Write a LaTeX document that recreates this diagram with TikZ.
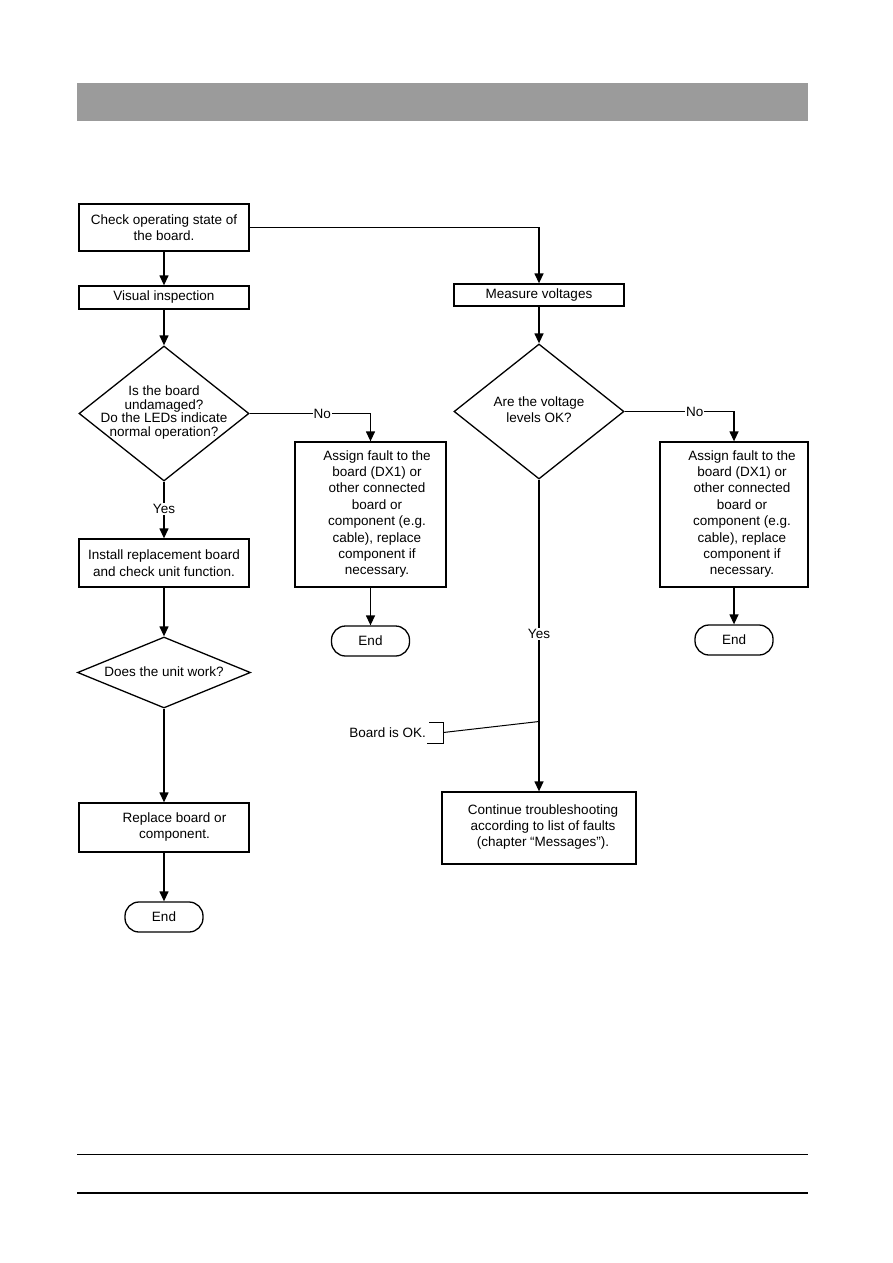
\documentclass[tikz,border=0pt]{standalone}
\usepackage{fontspec}
\setmainfont{Liberation Sans}
\usetikzlibrary{shapes.geometric,arrows.meta}
\definecolor{hdrgray}{RGB}{155,155,155}
\tikzset{
  x=1pt,y=-1pt,
  every node/.style={font=\fontsize{13.5}{16.4}\selectfont},
  box/.style={draw,line width=1.3pt,rectangle,align=center,inner sep=0pt},
  dia/.style={draw,line width=1.3pt,diamond,inner sep=0pt},
  endbox/.style={draw,line width=1.3pt,rectangle,rounded corners=14pt,minimum width=78pt,minimum height=30pt,inner sep=0pt},
  conn/.style={line width=1.3pt},
  arr/.style={line width=1.3pt,-{Triangle[width=9pt,length=10pt]}},
  lbl/.style={fill=white,inner sep=1pt}
}
\begin{document}
\begin{tikzpicture}
\useasboundingbox (0,0) rectangle (893,1263);
% header bar
\fill[hdrgray] (77,83) rectangle (807.5,120.5);
% footer lines
\draw[line width=1pt] (77,1154.3) -- (807.5,1154.3);
\draw[line width=2.4pt] (77,1192.7) -- (807.5,1192.7);

% left column
\node[box,minimum width=170pt,minimum height=47pt] (b1) at (164,227.5) {Check operating state of\\the board.};
\node[box,minimum width=170pt,minimum height=23pt] (b2) at (164,297.5) {Visual inspection};
\node[dia,minimum width=170pt,minimum height=135pt] (d1) at (164,413.5) {};
\node[align=center,font=\fontsize{13.5}{13.8}\selectfont] (d1t) at (164,412.5) {Is the board\\undamaged?\\Do the LEDs indicate\\normal operation?};
\node[box,minimum width=170pt,minimum height=48pt] (b3) at (164,563) {Install replacement board\\and check unit function.};
\node[dia,minimum width=173pt,minimum height=71pt] (d2) at (164,672.5) {};
\node (d2t) at (164,672) {Does the unit work?};
\node[box,minimum width=170pt,minimum height=49pt] (b4) at (164,827.5) {};
\node[align=center] (b4t) at (174.5,827) {Replace board or\\component.};
\node[endbox] (e2) at (164,917) {End};

% middle column
\node[box,minimum width=151pt,minimum height=145pt] (a1) at (370.5,514.5) {};
\node[align=center] (a1t) at (377,514) {Assign fault to the\\board (DX1) or\\other connected\\board or\\component (e.g.\\cable), replace\\component if\\necessary.};
\node[endbox] (e1) at (370.5,641) {End};

% right side
\node[box,minimum width=170pt,minimum height=22pt] (mv) at (539,295) {Measure voltages};
\node[dia,minimum width=170pt,minimum height=135pt] (d3) at (539,411.5) {};
\node[align=center] (d3t) at (539,409.5) {Are the voltage\\levels OK?};
\node[box,minimum width=148pt,minimum height=145pt] (a2) at (734,514.5) {};
\node[align=center] (a2t) at (742,514) {Assign fault to the\\board (DX1) or\\other connected\\board or\\component (e.g.\\cable), replace\\component if\\necessary.};
\node[endbox] (e3) at (734,640) {End};
\node[box,minimum width=194pt,minimum height=72pt] (ct) at (539,828) {};
\node[align=center] (ctt) at (543,827) {Continue troubleshooting\\according to list of faults\\(chapter “Messages”).};

% annotation
\node[anchor=east,inner sep=0pt] (ok) at (426,732.5) {Board is OK.};
\coordinate (bk) at (443.3,732.5);
\coordinate (jn) at (539,721.5);
\draw[line width=1pt] (429,722) -- (443.3,722) -- (443.3,743.3) -- (427,743.3);
\draw[line width=1pt] (bk) -- (jn);

% connectors
\draw[arr] (b1.south) -- (b2.north);
\draw[arr] (b1.east) -| (mv.north);
\draw[arr] (b2.south) -- (d1.north);
\draw[arr] (d1.east) -| node[lbl,pos=0.3] {No} (a1.north);
\draw[arr] (d1.south) -- node[lbl,pos=0.48] {Yes} (b3.north);
\draw[arr] (a1.south) -- (e1.north);
\draw[arr] (b3.south) -- (d2.north);
\draw[arr] (d2.south) -- (b4.north);
\draw[arr] (b4.south) -- (e2.north);
\draw[arr] (mv.south) -- (d3.north);
\draw[arr] (d3.east) -| node[lbl,pos=0.32] {No} (a2.north);
\draw[arr] (d3.south) -- node[lbl,pos=0.495] {Yes} (ct.north);
\draw[arr] (a2.south) -- (e3.north);
\end{tikzpicture}
\end{document}
